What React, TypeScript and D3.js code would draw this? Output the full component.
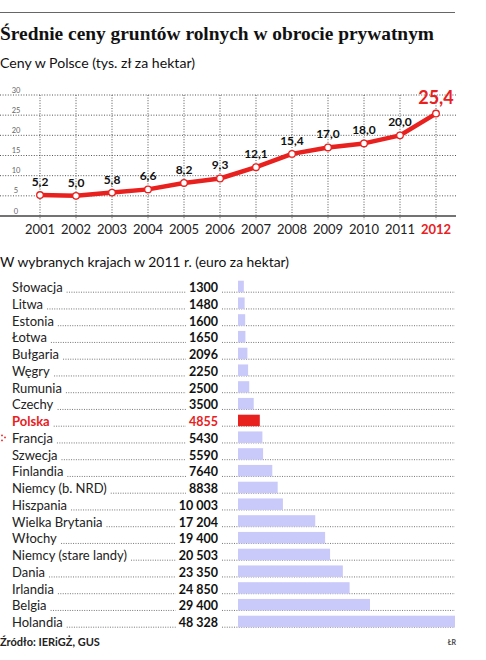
import React, { useEffect, useRef } from "react";
import * as d3 from "d3";

const years = ["2001","2002","2003","2004","2005","2006","2007","2008","2009","2010","2011","2012"];
const prices = [5.2, 5.0, 5.8, 6.6, 8.2, 9.3, 12.1, 15.4, 17.0, 18.0, 20.0, 25.4];
const priceLabels = ["5,2","5,0","5,8","6,6","8,2","9,3","12,1","15,4","17,0","18,0","20,0","25,4"];
const yTicks = [0, 5, 10, 15, 20, 25, 30];

const countries = ["Słowacja","Litwa","Estonia","Łotwa","Bułgaria","Węgry","Rumunia","Czechy","Polska","Francja","Szwecja","Finlandia","Niemcy (b. NRD)","Hiszpania","Wielka Brytania","Włochy","Niemcy (stare landy)","Dania","Irlandia","Belgia","Holandia"];
const countryValues = [1300,1480,1600,1650,2096,2250,2500,3500,4855,5430,5590,7640,8838,10003,17204,19400,20503,23350,24850,29400,48328];
const countryLabels = ["1300","1480","1600","1650","2096","2250","2500","3500","4855","5430","5590","7640","8838","10 003","17 204","19 400","20 503","23 350","24 850","29 400","48 328"];

const RED = "#e8201e";
const BAR = "#c9c9fa";
const SANS = "Lato, 'Open Sans', sans-serif";

export default function App() {
  const ref = useRef<SVGSVGElement>(null);
  useEffect(() => {
    const svg = d3.select(ref.current);
    svg.selectAll("*").remove();

    // top rule
    svg.append("line").attr("x1", 0).attr("x2", 455).attr("y1", 12.5).attr("y2", 12.5)
      .attr("stroke", "#666").attr("stroke-width", 1);

    svg.append("text").attr("x", 0).attr("y", 40)
      .attr("font-family", "'Liberation Serif', 'DejaVu Serif', serif").attr("font-weight", 700)
      .attr("font-size", 19).attr("fill", "#111")
      .attr("textLength", 434).attr("lengthAdjust", "spacingAndGlyphs")
      .text("Średnie ceny gruntów rolnych w obrocie prywatnym");

    svg.append("text").attr("x", 0).attr("y", 68).attr("font-family", SANS)
      .attr("font-size", 14).attr("fill", "#111")
      .attr("textLength", 195).attr("lengthAdjust", "spacingAndGlyphs")
      .text("Ceny w Polsce (tys. zł za hektar)");

    // line chart
    const x = d3.scalePoint<string>().domain(years).range([40, 436]);
    const y = d3.scaleLinear().domain([0, 30]).range([216, 95]);
    const g = svg.append("g");

    g.selectAll("line.hg").data(yTicks.filter(t => t > 0)).join("line")
      .attr("x1", 0).attr("x2", 456).attr("y1", d => y(d)).attr("y2", d => y(d))
      .attr("stroke", "#555").attr("stroke-width", 1).attr("stroke-dasharray", "1,1.6");
    g.selectAll("line.vg").data(years).join("line")
      .attr("x1", d => x(d)!).attr("x2", d => x(d)!).attr("y1", y(30)).attr("y2", y(0) + 4)
      .attr("stroke", "#555").attr("stroke-width", 1).attr("stroke-dasharray", "1,1.6");
    g.append("line").attr("x1", 0).attr("x2", 456).attr("y1", y(0)).attr("y2", y(0))
      .attr("stroke", "#444").attr("stroke-width", 1.6);

    g.selectAll("text.yt").data(yTicks).join("text")
      .attr("x", 16).attr("y", d => y(d) - 2.5).attr("text-anchor", "middle")
      .attr("font-family", SANS).attr("font-size", 7.5).attr("fill", "#666")
      .text(d => String(d));

    g.selectAll("text.xt").data(years).join("text")
      .attr("x", d => x(d)!).attr("y", 234).attr("text-anchor", "middle")
      .attr("font-family", SANS).attr("font-size", 13)
      .attr("font-weight", (d, i) => i === years.length - 1 ? 700 : 400)
      .attr("fill", (d, i) => i === years.length - 1 ? RED : "#222")
      .text(d => d);

    const line = d3.line<number>().x((d, i) => x(years[i])!).y(d => y(d)).curve(d3.curveLinear);
    g.append("path").attr("d", line(prices)).attr("fill", "none").attr("stroke", RED)
      .attr("stroke-width", 4.5).attr("stroke-linejoin", "round");
    g.selectAll("circle.pt").data(prices).join("circle")
      .attr("cx", (d, i) => x(years[i])!).attr("cy", d => y(d)).attr("r", 3.3)
      .attr("fill", "#fff").attr("stroke", RED).attr("stroke-width", 1.3);

    g.selectAll("text.vl").data(prices).join("text")
      .attr("x", (d, i) => x(years[i])!)
      .attr("y", (d, i) => y(d) - (i === prices.length - 1 ? 10 : 9))
      .attr("text-anchor", "middle").attr("font-family", SANS).attr("font-weight", 700)
      .attr("font-size", (d, i) => i === prices.length - 1 ? 18 : 12)
      .attr("fill", (d, i) => i === prices.length - 1 ? RED : "#111")
      .text((d, i) => priceLabels[i]);

    // bar section
    svg.append("text").attr("x", 0).attr("y", 267).attr("font-family", SANS)
      .attr("font-size", 14).attr("fill", "#111")
      .attr("textLength", 289).attr("lengthAdjust", "spacingAndGlyphs")
      .text("W wybranych krajach w 2011 r. (euro za hektar)");

    const rowY = d3.scalePoint<string>().domain(countries).range([287.7, 622.7]);
    const bx = d3.scaleLinear().domain([0, 48328]).range([238, 455]);
    const rows = svg.append("g");

    countries.forEach((c, i) => {
      const cy = rowY(c)!;
      const base = cy + 4.5;
      const isPL = c === "Polska";
      const col = isPL ? RED : "#222";
      const lab = rows.append("text").attr("x", 12).attr("y", base)
        .attr("font-family", SANS).attr("font-size", 13).attr("fill", col)
        .attr("font-weight", isPL ? 700 : 400).text(c);
      const val = rows.append("text").attr("x", 218).attr("y", base).attr("text-anchor", "end")
        .attr("font-family", SANS).attr("font-size", 12.5).attr("font-weight", 700)
        .attr("fill", isPL ? RED : "#111").text(countryLabels[i]);
      const lb = (lab.node() as SVGTextElement).getBBox();
      const vb = (val.node() as SVGTextElement).getBBox();
      rows.append("line").attr("x1", lb.x + lb.width + 4).attr("x2", vb.x - 3)
        .attr("y1", base).attr("y2", base)
        .attr("stroke", "#666").attr("stroke-width", 0.9).attr("stroke-dasharray", "1,1.4");
      rows.append("line").attr("x1", 222).attr("x2", 455).attr("y1", base).attr("y2", base)
        .attr("stroke", "#666").attr("stroke-width", 0.9).attr("stroke-dasharray", "1,1.4");
      rows.append("rect").attr("x", bx(0)).attr("y", cy - 7).attr("width", bx(countryValues[i]) - bx(0))
        .attr("height", 11.5).attr("fill", isPL ? RED : BAR);
      if (c === "Francja") {
        [[2, -3], [5, -1], [2, 2]].forEach(([dx, dy]) => {
          rows.append("circle").attr("cx", dx).attr("cy", cy + dy).attr("r", 0.9).attr("fill", RED);
        });
      }
    });

    svg.append("text").attr("x", 0).attr("y", 646).attr("font-family", SANS)
      .attr("font-size", 11).attr("font-weight", 700).attr("fill", "#222")
      .text("Źródło: IERiGŻ, GUS");
    svg.append("text").attr("x", 456).attr("y", 645).attr("text-anchor", "end").attr("font-family", SANS)
      .attr("font-size", 7).attr("font-weight", 700).attr("fill", "#444").text("ŁR");
  }, []);

  return (
    <svg ref={ref} width={486} height={660}
      style={{ position: "absolute", left: 0, top: 0, background: "#fff", display: "block" }} />
  );
}
